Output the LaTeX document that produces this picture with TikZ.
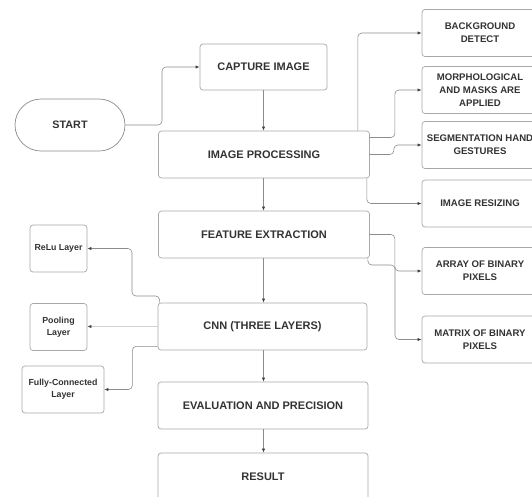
\documentclass[tikz,border=0pt]{standalone}
\usepackage{fontspec}
\setmainfont{Liberation Sans}
\usetikzlibrary{arrows.meta,calc}
\definecolor{txt}{HTML}{333333}
\definecolor{edge}{HTML}{A8A8A8}
\definecolor{wire}{HTML}{8C8C8C}
\definecolor{tipc}{HTML}{444444}
\tikzset{
  box/.style={draw=edge, line width=0.7pt, rounded corners=3pt, align=center,
    text=txt, font=\bfseries\fontsize{11}{13}\selectfont, inner sep=0pt},
  mainbox/.style={box, minimum width=211pt, minimum height=47pt},
  sidebox/.style={box, minimum width=116pt, minimum height=47pt,
    font=\bfseries\fontsize{9.6}{12.8}\selectfont},
  leftbox/.style={box, minimum height=47pt,
    font=\bfseries\fontsize{8.8}{12}\selectfont},
  wirel/.style={draw=wire, line width=0.6pt, rounded corners=4pt,
    -{Latex[length=4pt,width=3.2pt,color=tipc]}},
  faint/.style={wirel, draw=wire!40}
}
\begin{document}
\begin{tikzpicture}[x=1pt,y=-1pt]
\useasboundingbox (0,0) rectangle (532,496);
\clip (0,0) rectangle (532,496);
% start
\node[box, minimum width=110pt, minimum height=52pt, rounded corners=26pt,
  draw=black!45, font=\bfseries\fontsize{10.8}{13}\selectfont] (start) at (70,125) {START};
% main column
\node[box, minimum width=127pt, minimum height=46pt] (cap) at (263.5,67) {CAPTURE IMAGE};
\node[mainbox] (ip) at (264,154.5) {IMAGE PROCESSING};
\node[mainbox] (fe) at (264,234.5) {FEATURE EXTRACTION};
\node[mainbox, minimum width=209pt] (cnn) at (262.5,326.5) {CNN (THREE LAYERS)};
\node[mainbox, minimum width=210pt] (ev) at (263,405.5) {EVALUATION AND PRECISION};
\node[mainbox, minimum width=210pt] (res) at (263,476.5) {RESULT};
% right column
\node[sidebox] (bg) at (480,33) {BACKGROUND\\DETECT};
\node[sidebox] (mo) at (480,90) {MORPHOLOGICAL\\AND MASKS ARE\\APPLIED};
\node[sidebox] (seg) at (480,145) {SEGMENTATION HAND\\GESTURES};
\node[sidebox] (rs) at (480,203.5) {IMAGE RESIZING};
\node[sidebox] (ar) at (480,271) {ARRAY OF BINARY\\PIXELS};
\node[sidebox] (mx) at (480,339.5) {MATRIX OF BINARY\\PIXELS};
% left column
\node[leftbox, minimum width=57pt] (relu) at (58.5,248.5) {ReLu Layer};
\node[leftbox, minimum width=57pt] (pool) at (58.5,327) {Pooling\\Layer};
\node[leftbox, minimum width=82pt] (fc) at (63,389.5) {Fully-Connected\\Layer};
% main flow
\draw[wirel] (start.east) -- (162,125) |- (cap.west);
\draw[wirel] (cap.south) -- (cap.south |- ip.north);
\draw[wirel] (ip.south -| cap.south) -- (cap.south |- fe.north);
\draw[wirel] (fe.south -| cap.south) -- (cap.south |- cnn.north);
\draw[wirel] (cnn.south -| cap.south) -- (cap.south |- ev.north);
\draw[wirel] (ev.south -| cap.south) -- (cap.south |- res.north);
% image processing branches
\draw[wirel] ($(ip.north east)+(-12,0)$) |- (bg.west);
\draw[wirel] ($(ip.east)+(0,-17)$) -- ++(25,0) |- (mo.west);
\draw[wirel] (ip.east) -- ++(24,0) |- (seg.west);
\draw[wirel] ($(ip.south east)+(-3,0)$) |- (rs.west);
% feature extraction branches
\draw[wirel] (fe.east) -- ++(25,0) |- (ar.west);
\draw[wirel] ($(fe.south east)+(-2,0)$) |- (395,265) |- (mx.west);
% cnn branches
\draw[wirel] ($(cnn.north west)+(2,0)$) |- (132,296) |- (relu.east);
\draw[faint] (cnn.west) -- (cnn.west -| pool.east);
\draw[wirel] ($(cnn.south west)+(0,-4)$) -| ($(fc.east)+(28,0)$) -- (fc.east);
\end{tikzpicture}
\end{document}
